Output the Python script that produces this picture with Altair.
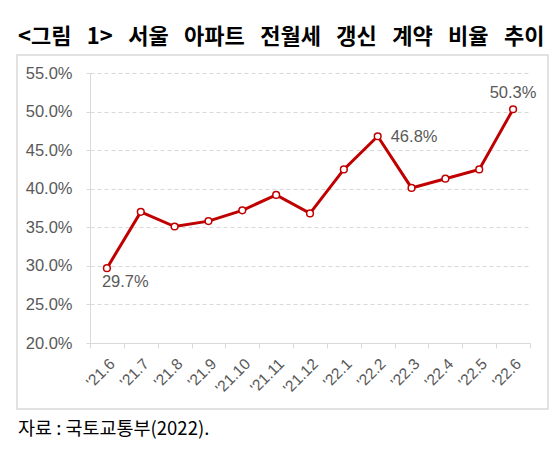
import altair as alt
import pandas as pd

# monthly share of renewal contracts, Seoul apartments (%)
months = ["'21.6", "'21.7", "'21.8", "'21.9", "'21.10", "'21.11", "'21.12",
          "'22.1", "'22.2", "'22.3", "'22.4", "'22.5", "'22.6"]
rates = [29.7, 37.0, 35.1, 35.8, 37.2, 39.2, 36.8, 42.5, 46.8, 40.1, 41.3, 42.5, 50.3]
y_ticks = [20, 25, 30, 35, 40, 45, 50, 55]

# the original title is set with wide word gaps; en + thin space keeps that look
TITLE = "\u2002\u2009".join(["<그림", "1>", "서울", "아파트", "전월세", "갱신", "계약", "비율", "추이"])
SOURCE = "자료 : 국토교통부(2022)."

RED = "#C00000"
GREY = "#595959"
LIGHT = "#d9d9d9"
LATIN = "Liberation Sans"
KR = "Noto Sans CJK KR"

df = pd.DataFrame({"month": months, "rate": rates})

x = alt.X("month:N", sort=months, title=None,
          scale=alt.Scale(paddingInner=0, paddingOuter=0),
          axis=alt.Axis(labelAngle=-45, labelFont=LATIN, labelFontSize=15.5,
                        labelColor=GREY, domainColor=LIGHT, tickColor=LIGHT,
                        tickSize=5, tickBand="extent", labelPadding=8))
y = alt.Y("rate:Q", title=None,
          scale=alt.Scale(domain=[20, 55], nice=False, zero=False),
          axis=alt.Axis(values=y_ticks, labelExpr="format(datum.value, '.1f') + '%'",
                        labelFont=LATIN, labelFontSize=16.5, labelColor=GREY,
                        labelPadding=14, grid=True, gridColor=LIGHT, gridDash=[4, 3],
                        domainColor=LIGHT, ticks=True, tickSize=4, tickColor=LIGHT,
                        tickDash=[4, 3]))

base = alt.Chart(df).encode(x=x, y=y).transform_calculate(
    lbl="format(datum.rate, '.1f') + '%'")

line = base.mark_line(color=RED, strokeWidth=3)
dots = base.mark_point(filled=True, fill="white", stroke=RED, strokeWidth=1.5,
                       size=45, opacity=1)

label_style = dict(font=LATIN, fontSize=16.5, color=GREY, baseline="middle")
lab_first = base.transform_filter(alt.datum.month == months[0]).mark_text(
    align="left", dx=-5, dy=14, **label_style).encode(text="lbl:N")
lab_peak = base.transform_filter(alt.datum.month == "'22.2").mark_text(
    align="left", dx=13, dy=1, **label_style).encode(text="lbl:N")
lab_last = base.transform_filter(alt.datum.month == months[-1]).mark_text(
    align="center", dy=-16, **label_style).encode(text="lbl:N")

# light frame around the plot block
frame = alt.Chart(alt.Data(values=[{}])).mark_rect(
    fill=None, stroke=LIGHT, strokeWidth=1.5
).encode(x=alt.value(-73), x2=alt.value(458), y=alt.value(-18), y2=alt.value(336))

source = alt.Chart(alt.Data(values=[{"t": SOURCE}])).mark_text(
    align="left", baseline="middle", font=KR, fontSize=18.5, color="black"
).encode(x=alt.value(-72), y=alt.value(356), text="t:N")

chart = alt.layer(frame, line, dots, lab_first, lab_peak, lab_last, source).properties(
    width=440, height=270,
    autosize=alt.AutoSizeParams(type="none"),
    padding={"left": 82, "top": 65, "right": 22, "bottom": 118},
    title=alt.TitleParams(TITLE, anchor="start", frame="group", dx=-72, offset=5,
                          font=KR, fontSize=22, fontWeight="bold", color="black"),
).configure_view(stroke=None)

chart.save("out.html", embed_options={"renderer": "svg", "actions": False})
